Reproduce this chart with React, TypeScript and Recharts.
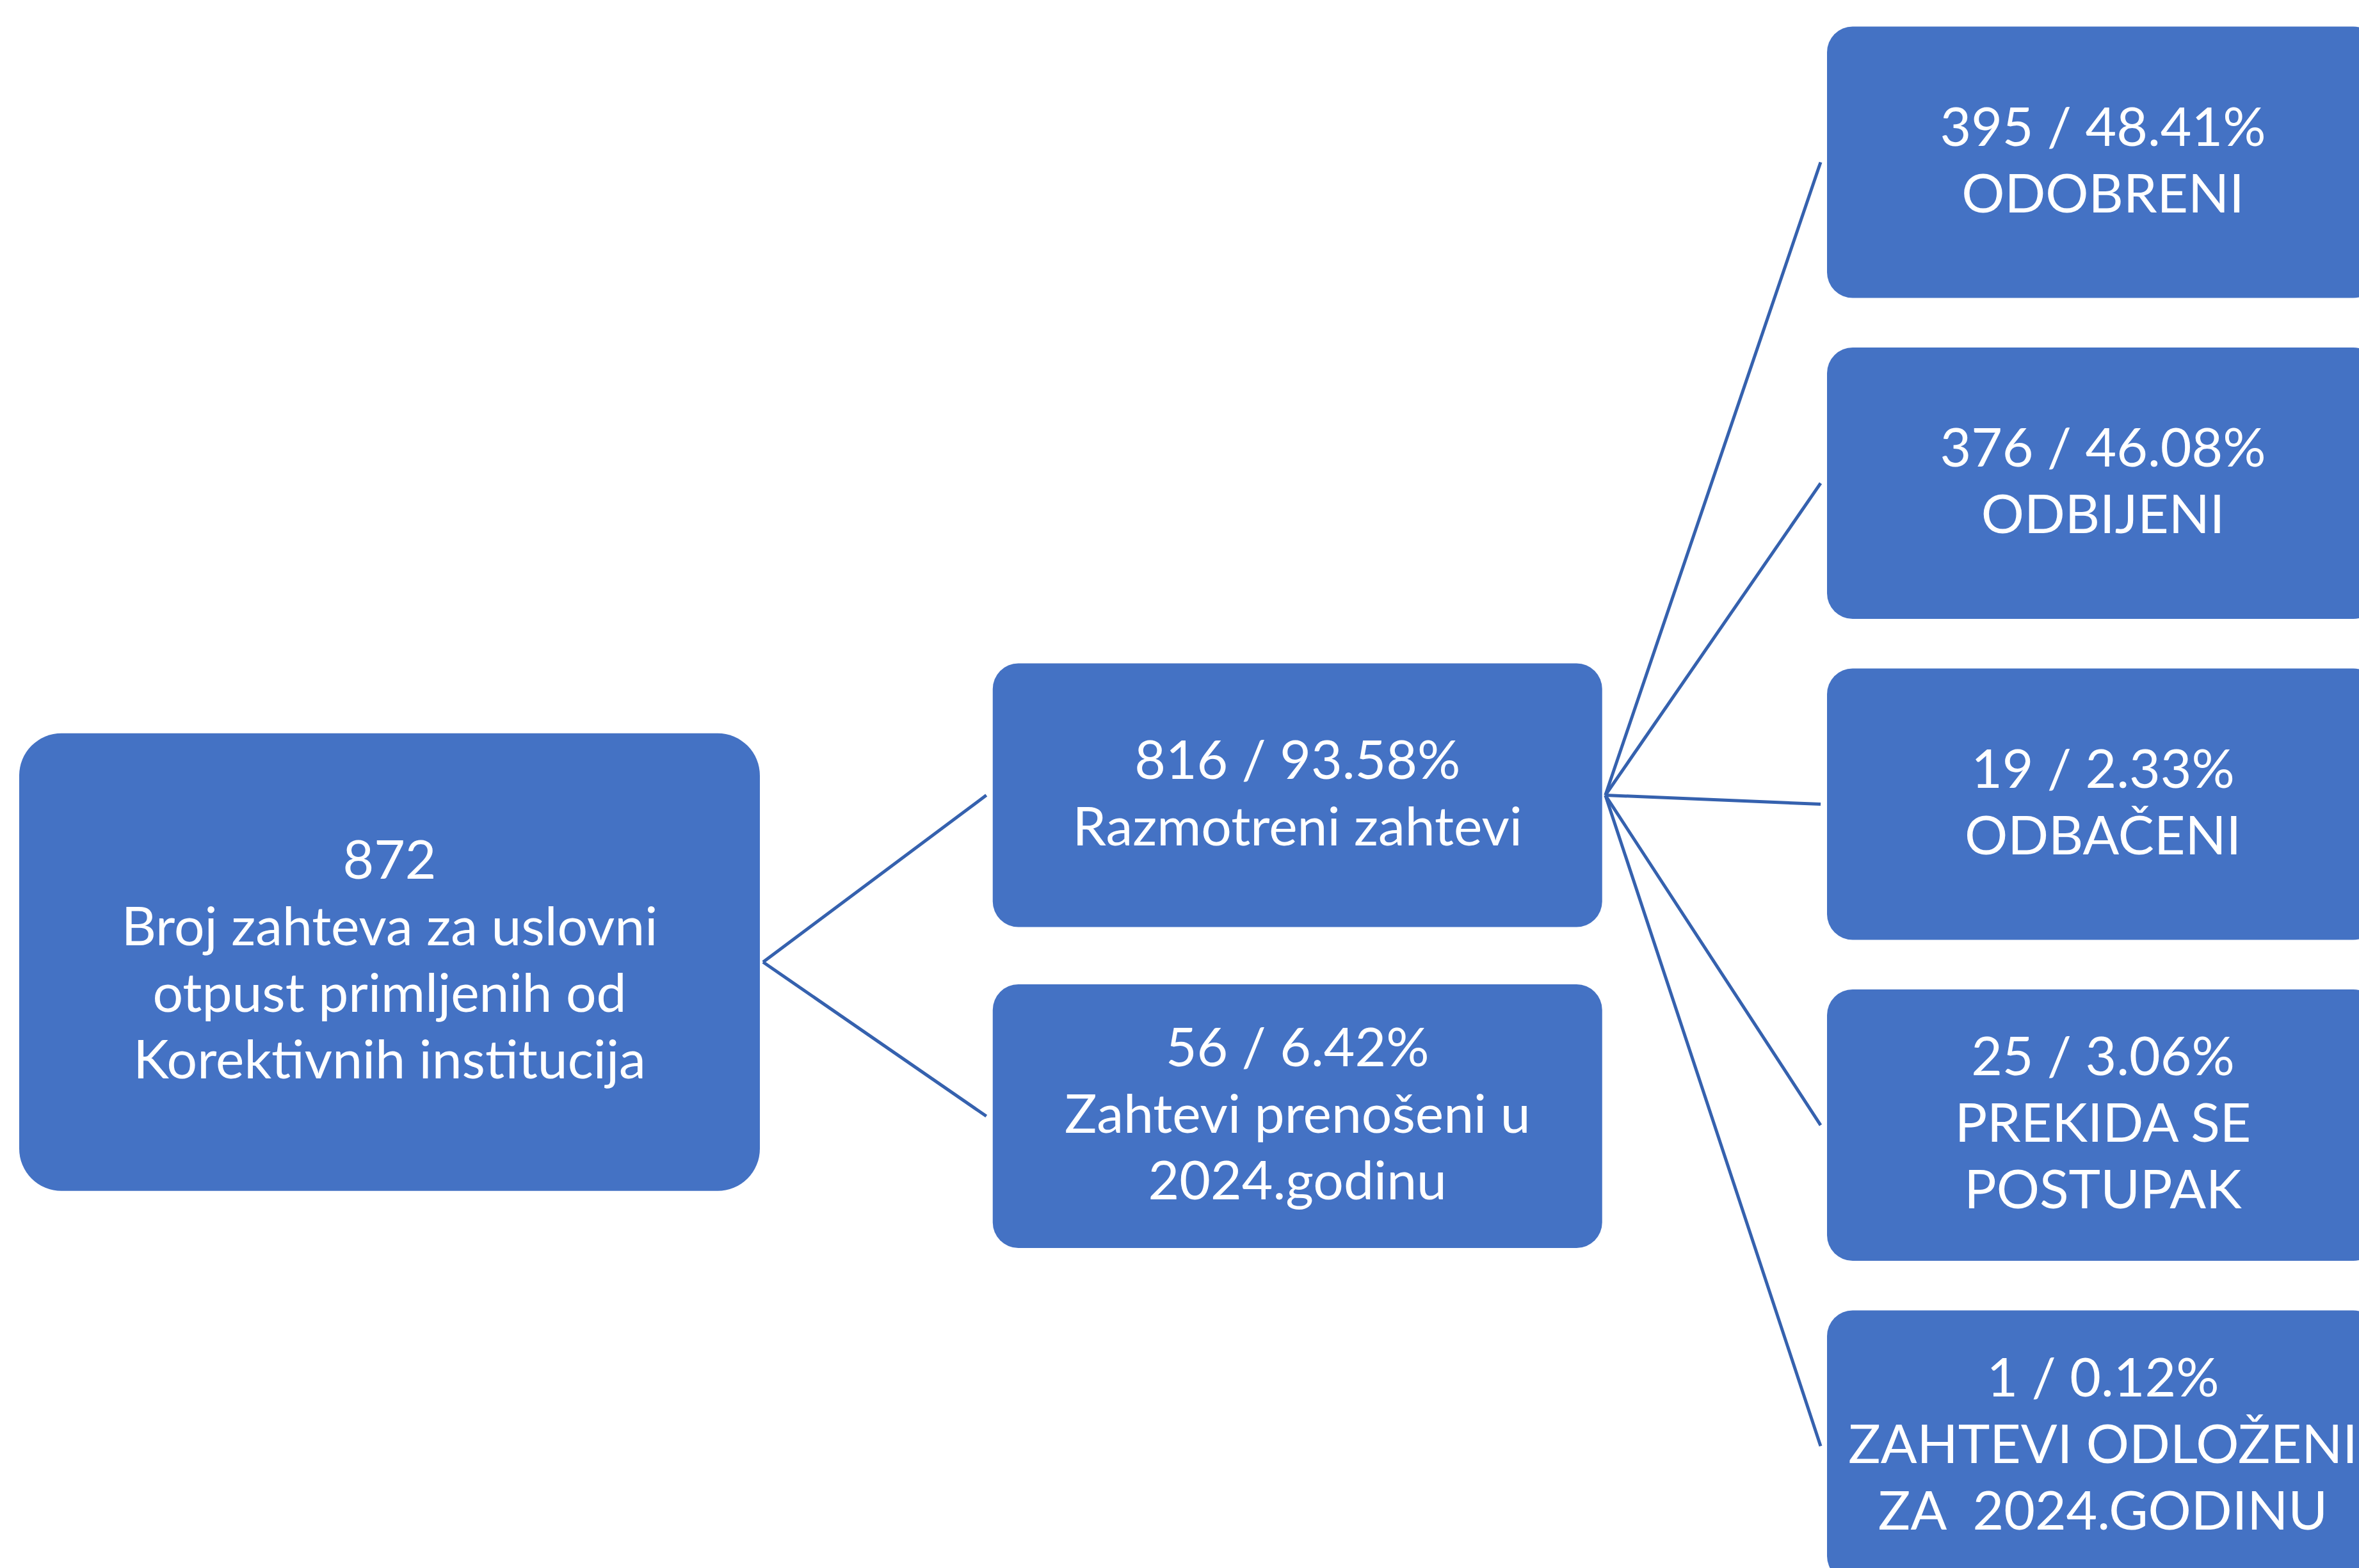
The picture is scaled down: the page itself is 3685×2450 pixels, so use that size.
import { Scatter, ScatterChart, XAxis, YAxis } from "recharts";

const W = 3685;
const H = 2450;

// ---- values ----
const rootCount = 872;
const rootLabel = "Broj zahteva za uslovni\notpust primljenih od\nKorektivnih institucija";

const midCounts = [816, 56];
const midShares = [93.58, 6.42];
const midLabels = ["Razmotreni zahtevi", "Zahtevi prenošeni u\n2024.godinu"];

const leafCounts = [395, 376, 19, 25, 1];
const leafShares = [48.41, 46.08, 2.33, 3.06, 0.12];
const leafLabels = [
  "ODOBRENI",
  "ODBIJENI",
  "ODBAČENI",
  "PREKIDA SE\nPOSTUPAK",
  "ZAHTEVI ODLOŽENI\nZA  2024.GODINU",
];

// the outcomes hang off the first middle node
const leafParent = 0;

// ---- look ----
const BOX = "#4472C4";
const EDGE = "#3561AE";
const FONT = "Lato, 'Open Sans', sans-serif";
const FONT_SIZE = 84;
const LINE_H = 104;

// per tree level: box size, corner radius, nudge
const LEVEL_STYLE = [
  { w: 1157, h: 715, r: 66, dx: 0, dy: -4 },
  { w: 952, h: 412, r: 40, dx: 80, dy: -14 },
  { w: 862, h: 424, r: 40, dx: 0, dy: 0 },
];

type TreeNode = { id: string; level: number; col: number; row: number; lines: string[] };

const pct = (v: number) => `${v.toFixed(2)}%`;
const mean = (xs: number[]) => xs.reduce((s, v) => s + v, 0) / xs.length;

// simple tidy layout: leaves stacked, parents centred on their children
const leaves: TreeNode[] = leafCounts.map((n, i) => ({
  id: `leaf${i}`,
  level: 2,
  col: 2,
  row: i,
  lines: [`${n} / ${pct(leafShares[i])}`, ...leafLabels[i].split("\n")],
}));
const leafCentre = mean(leaves.map((d) => d.row));
const mids: TreeNode[] = midCounts.map((n, i) => ({
  id: `mid${i}`,
  level: 1,
  col: 1,
  row: leafCentre + i,
  lines: [`${n} / ${pct(midShares[i])}`, ...midLabels[i].split("\n")],
}));
const root: TreeNode = {
  id: "root",
  level: 0,
  col: 0,
  row: mean(mids.map((d) => d.row)),
  lines: [String(rootCount), ...rootLabel.split("\n")],
};
const nodes = [root, ...mids, ...leaves];
const edges = [
  ...mids.map((m) => [root, m]),
  ...leaves.map((l) => [mids[leafParent], l]),
];

function NodeBox(props: any) {
  const { cx, cy } = props;
  const d: TreeNode = props.payload ?? props;
  const st = LEVEL_STYLE[d.level];
  const x = cx + st.dx;
  const y = cy + st.dy;
  const n = d.lines.length;
  return (
    <g>
      <rect
        x={x - st.w / 2}
        y={y - st.h / 2}
        width={st.w}
        height={st.h}
        rx={st.r}
        ry={st.r}
        fill={BOX}
      />
      <text
        textAnchor="middle"
        fill="#fff"
        fontSize={FONT_SIZE}
        fontFamily={FONT}
        style={{ whiteSpace: "pre" }}
      >
        {d.lines.map((t, i) => (
          <tspan key={i} x={x} y={y + (i - (n - 1) / 2) * LINE_H + FONT_SIZE * 0.31}>
            {t}
          </tspan>
        ))}
      </text>
    </g>
  );
}

const noDot = () => <g />;

// connector from the parent's right side to the child's left side
const edgeLine = (from: number, to: number) => (p: any) => {
  const [a, b] = p.points;
  const s = LEVEL_STYLE[from];
  const e = LEVEL_STYLE[to];
  return (
    <line
      x1={a.x + s.dx + s.w / 2 + 5}
      y1={a.y + s.dy}
      x2={b.x + e.dx - e.w / 2 - 10}
      y2={b.y + e.dy}
      stroke={EDGE}
      strokeWidth={5}
    />
  );
};

export default function App() {
  return (
    <div style={{ position: "absolute", left: 0, top: 0, width: W, height: H, background: "#fff" }}>
      <ScatterChart width={W} height={H} margin={{ top: 0, right: 0, bottom: 0, left: 0 }}>
        <XAxis type="number" dataKey="col" domain={[-0.4547, 2.2989]} hide />
        <YAxis type="number" dataKey="row" domain={[-0.5055, 4.3798]} reversed hide />
        {edges.map(([a, b], i) => (
          <Scatter
            key={`e${i}`}
            data={[a, b]}
            shape={noDot}
            line={edgeLine(a.level, b.level)}
            isAnimationActive={false}
          />
        ))}
        <Scatter data={nodes} shape={NodeBox} isAnimationActive={false} />
      </ScatterChart>
    </div>
  );
}
